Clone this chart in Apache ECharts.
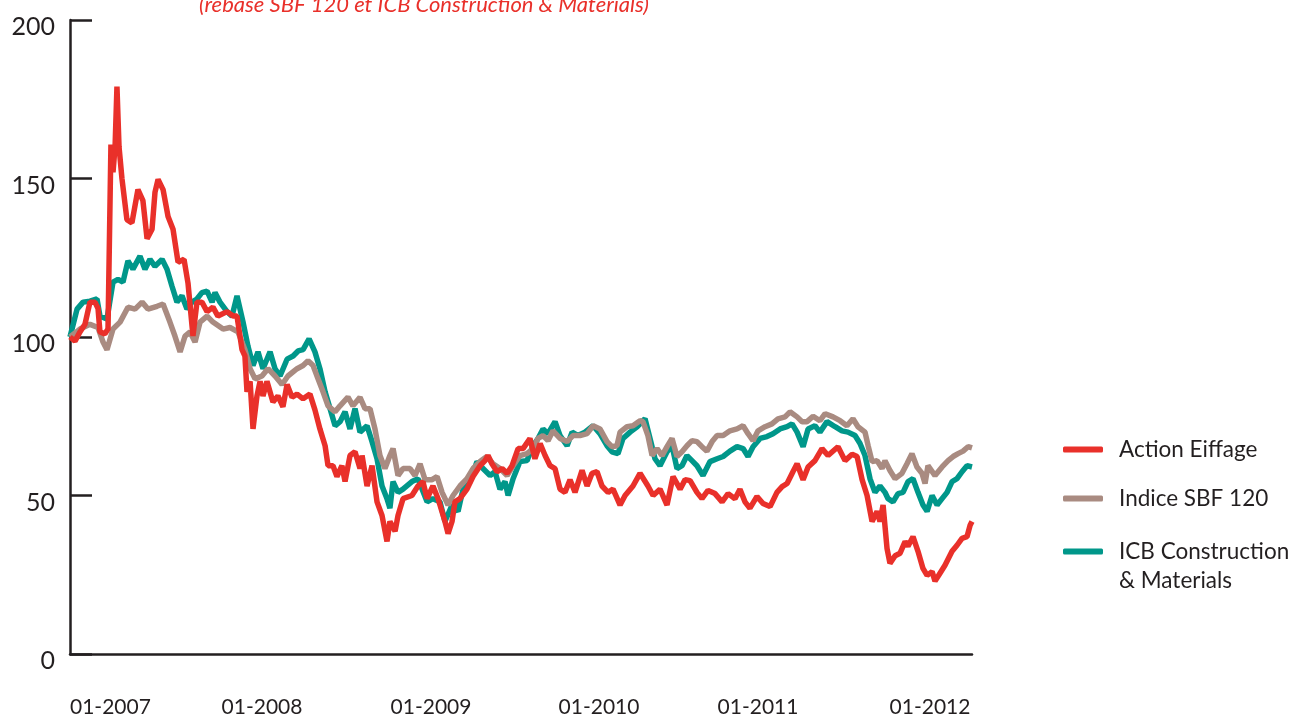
<!DOCTYPE html>
<html>
<head>
<meta charset="utf-8">
<script src="https://cdn.jsdelivr.net/npm/echarts@6/dist/echarts.min.js"></script>
<style>
  html, body { margin: 0; padding: 0; background: #fff; }
  #chart { width: 1290px; height: 718px; }
</style>
</head>
<body>
<div id="chart"></div>
<script>
// x = date as decimal year, y = value rebased to 100 on 01-2007
const seriesNames = ['Action Eiffage', 'Indice SBF 120', 'ICB Construction\n& Materials'];
const yearLabels = [2007, 2008, 2009, 2010, 2011, 2012];
const yTicks = [0, 50, 100, 150, 200];

const eiffageT = [0,0.029,0.058,0.087,0.116,0.145,0.163,0.174,0.203,0.221,0.238,0.250,0.262,0.273,0.285,0.302,0.331,0.360,0.395,0.424,0.448,0.477,0.494,0.512,0.541,0.570,0.599,0.628,0.663,0.686,0.715,0.738,0.767,0.797,0.831,0.860,0.913,0.948,0.971,1.000,1.017,1.029,1.047,1.064,1.087,1.105,1.122,1.145,1.180,1.209,1.238,1.262,1.291,1.320,1.355,1.395,1.424,1.453,1.483,1.500,1.529,1.552,1.581,1.599,1.628,1.657,1.686,1.698,1.727,1.756,1.785,1.814,1.843,1.860,1.890,1.907,1.936,1.988,2.023,2.052,2.076,2.110,2.140,2.180,2.198,2.221,2.238,2.267,2.308,2.343,2.384,2.413,2.430,2.453,2.483,2.512,2.541,2.570,2.605,2.634,2.674,2.703,2.733,2.762,2.791,2.820,2.849,2.878,2.907,2.936,2.977,3.006,3.035,3.064,3.093,3.128,3.157,3.198,3.227,3.273,3.314,3.360,3.390,3.430,3.471,3.506,3.547,3.576,3.605,3.645,3.674,3.709,3.750,3.791,3.826,3.866,3.895,3.924,3.953,3.994,4.029,4.070,4.110,4.140,4.169,4.203,4.227,4.262,4.291,4.331,4.372,4.407,4.465,4.506,4.547,4.576,4.605,4.634,4.663,4.692,4.709,4.727,4.750,4.767,4.797,4.826,4.855,4.872,4.901,4.930,4.959,4.983,5.012,5.029,5.058,5.087,5.128,5.157,5.186,5.215,5.233,5.244];
const eiffageV = [100,98.7,101.6,104,111,111,109,101.6,101,102.5,160.7,152,160,179,160,150,137,136,146.5,143,131,134,145.6,149.7,146.5,138,134,123.6,124.5,117,100.3,111,111,108,109.4,106.6,108,106.6,106.6,96,94,82.7,86,71,81.4,86,81.4,86,79.5,81.4,78,85,81,82,80.5,82,77,71,65.7,59.4,59.4,56,59.4,54.4,62.6,63.8,58.5,62.6,53,59.4,48,43.7,35.5,41.8,38.7,43.7,49,50,53,54.4,49,53,49,41.8,38,41.8,48,49,52,56,59.4,61,62.6,60,57.5,58.5,57,59.4,64.8,64.8,68,61.6,66.4,62.6,59.4,58.5,52,51,55,51,57.9,53,57,57.5,53,51,52,47,50,53,57,53,50,52,47,56,52,55,54.7,51,49,51.6,50.6,48,50.6,49,52,48,46,49.7,47.5,46.5,51,52.8,53.8,57.5,60,55,59,61,64.8,62.6,65.4,61,63,62.3,55,50,41.8,45,41.8,47,33.3,28.6,31,31.8,35.5,34,37,32.4,27,24.8,26,23,25.5,28,32.4,34.3,36.5,37,40.6,41.8];

const sbfT = [0,0.058,0.116,0.163,0.192,0.215,0.250,0.291,0.337,0.378,0.419,0.453,0.506,0.541,0.581,0.610,0.640,0.669,0.698,0.727,0.756,0.797,0.831,0.890,0.930,0.977,1.017,1.047,1.076,1.116,1.151,1.192,1.233,1.267,1.320,1.355,1.384,1.413,1.442,1.471,1.500,1.541,1.570,1.616,1.645,1.686,1.715,1.744,1.773,1.802,1.831,1.860,1.878,1.907,1.936,1.977,2.006,2.035,2.064,2.105,2.134,2.163,2.198,2.227,2.267,2.308,2.343,2.384,2.424,2.459,2.500,2.541,2.576,2.616,2.657,2.692,2.721,2.750,2.779,2.808,2.849,2.890,2.924,2.965,3.006,3.041,3.081,3.122,3.151,3.180,3.198,3.238,3.273,3.314,3.331,3.360,3.384,3.413,3.442,3.471,3.500,3.529,3.558,3.587,3.616,3.645,3.674,3.703,3.733,3.762,3.797,3.837,3.878,3.913,3.942,3.971,4.000,4.041,4.081,4.116,4.157,4.186,4.227,4.256,4.285,4.320,4.360,4.390,4.436,4.477,4.517,4.552,4.581,4.622,4.640,4.663,4.692,4.721,4.738,4.767,4.797,4.837,4.866,4.895,4.924,4.953,4.971,4.988,5.029,5.070,5.105,5.134,5.163,5.192,5.221,5.244];
const sbfV = [100,102.5,104,103,98.4,96,102.5,104.7,109.4,108.8,111,108.8,109.7,110.4,104.7,100.3,95.3,100.3,101.6,98.4,104.7,106.6,104.7,102.5,103,101.6,96,90,86.8,87.7,90,87.7,85,87.7,90,91,92.5,91,86.8,82.7,78.3,76.4,78.3,81,78.3,81,77.4,77.4,71,62.6,58.5,62.6,64.8,56.3,58.5,58.5,56.3,60,55,55,56,51,47,50,53,55.3,58.5,60.7,62.3,60,58.5,56.3,59.4,62.6,63.2,64.8,68,68.9,67.3,70.4,68,67,68.9,68.9,69.5,72,71,67,65.4,65.7,70,71.7,72,73.6,73.3,68.9,62.6,64.8,62.6,65.4,68,62.3,63.8,65.7,67.3,67,65.4,64,67,68.9,68.9,70.4,71,72,69.5,67.3,70.4,71.7,72.6,74.2,74.8,76.4,74.8,73.3,73.3,75,73.6,75.8,74.8,73.6,72,74.2,71.7,70,65.7,60.7,61,58.5,61,57.9,55.3,57,60,63.2,59,57,53.8,59.4,56.3,59,61,62.3,63.2,64,65.4,65];

const icbT = [0,0.041,0.076,0.116,0.157,0.174,0.215,0.250,0.279,0.308,0.337,0.366,0.407,0.436,0.465,0.494,0.535,0.564,0.593,0.622,0.651,0.680,0.709,0.738,0.767,0.797,0.826,0.843,0.872,0.913,0.942,0.971,1.006,1.035,1.064,1.093,1.122,1.163,1.192,1.221,1.262,1.297,1.326,1.355,1.390,1.424,1.453,1.483,1.512,1.541,1.570,1.599,1.628,1.657,1.686,1.727,1.756,1.785,1.814,1.843,1.860,1.878,1.907,1.936,1.988,2.023,2.076,2.110,2.151,2.180,2.221,2.256,2.285,2.326,2.366,2.401,2.442,2.471,2.500,2.529,2.547,2.576,2.616,2.657,2.692,2.721,2.750,2.779,2.820,2.849,2.890,2.919,2.953,2.994,3.041,3.081,3.122,3.151,3.186,3.215,3.256,3.297,3.343,3.372,3.401,3.430,3.471,3.500,3.529,3.558,3.587,3.616,3.645,3.680,3.721,3.762,3.797,3.837,3.878,3.913,3.942,3.971,4.012,4.052,4.087,4.128,4.169,4.198,4.227,4.262,4.291,4.331,4.360,4.401,4.448,4.488,4.523,4.564,4.593,4.622,4.651,4.680,4.709,4.738,4.756,4.785,4.814,4.843,4.872,4.901,4.930,4.959,4.983,5.012,5.041,5.070,5.099,5.128,5.157,5.186,5.215,5.244];
const icbV = [100,108.8,111,111.3,112,106.6,105.7,117.3,118.2,117.3,124,121.4,125.5,121.4,124.5,122.3,124.5,121.4,116,111,113,108.8,111,112,114,114.5,111,114,111,108,106.6,113,104.7,97,91,95.3,90,95.3,90,87.7,93,94,95.6,96,99.4,95.3,90,82.7,77.4,72,73.3,76.4,71,77.4,70,72,67,61.6,53,49,46,54.4,51,52,54.4,55.3,48,49,48,41.8,47,45,52,54.4,60.7,58.5,56.3,57.5,52,54.4,50,55.3,60.7,61,65.7,68,71,69.5,73.3,68.9,65.7,70,68.9,70,72,69.5,65.7,63.8,63.2,68,70,71.7,74.2,68,61.6,59.4,63.8,65.7,58.5,59.4,62.6,61,59.4,56.3,60.7,61.6,62.3,64,65.4,64.8,62.3,65.4,68,68.6,69.5,71,71.7,72.6,70,65.4,71,72,70,73.3,71.7,70.4,70,68.9,66.4,62.6,55.3,51,53,51,49,48,50.6,51,54.4,55.3,51,47,45,50,47,49,51,54.4,55.3,57.5,59.4,59];

const colors = ['#e9302a', '#a98b81', '#00978a'];
const fontName = 'Lato';
const ink = '#231f20';

function pairs(t, v) {
  return t.map((d, i) => [2007 + d, v[i]]);
}

// legend text: gap after the line icon, one rich token per line
function legendText(name, blankFirst) {
  const lines = name.split('\n').map(s => '{t|' + s + '}');
  return (blankFirst ? '{t| }\n' : '') + lines.join('\n');
}

// the year labels of the original sit a bit right of the year start for the first years
function yearLabel(v) {
  if (yearLabels.indexOf(v) < 0) return '';
  const style = { 2008: 'a', 2009: 'b', 2010: 'c' }[v] || 'n';
  return '{' + style + '|01-' + v + '}';
}

const labelFont = { fontSize: 21, color: ink, fontFamily: fontName };

const legendBase = {
  orient: 'vertical',
  left: 1063,
  padding: 0,
  itemWidth: 40,
  itemHeight: 6,
  itemGap: 26,
  icon: 'roundRect',
  textStyle: {
    color: ink,
    fontFamily: fontName,
    rich: { t: { fontSize: 22.5, lineHeight: 29, color: ink, fontFamily: fontName, padding: [0, 0, 0, 11] } }
  }
};

const chart = echarts.init(document.getElementById('chart'));

const option = {
  animation: false,
  backgroundColor: '#fff',
  textStyle: { fontFamily: fontName },
  graphic: [{
    type: 'text',
    x: 424,
    y: -6,
    style: {
      text: '(rebasé SBF 120 et ICB Construction & Materials)',
      fill: '#e9302a',
      font: 'italic 22px ' + fontName,
      textAlign: 'center',
      textVerticalAlign: 'top'
    }
  }],
  grid: { left: 70, right: 318, top: 20, bottom: 62 },
  legend: [
    Object.assign({}, legendBase, {
      top: 438,
      data: [seriesNames[0], seriesNames[1]],
      formatter: name => legendText(name, false)
    }),
    Object.assign({}, legendBase, {
      top: 511,
      data: [seriesNames[2]],
      formatter: name => legendText(name, true)
    })
  ],
  xAxis: {
    type: 'value',
    min: 2007,
    max: 2007 + 5.244,
    interval: 1,
    splitLine: { show: false },
    axisTick: { show: false },
    axisLine: { lineStyle: { color: ink, width: 2.5 } },
    axisLabel: {
      margin: 43,
      color: ink,
      alignMinLabel: 'left',
      formatter: yearLabel,
      rich: {
        n: labelFont,
        a: Object.assign({ padding: [0, 0, 0, 40] }, labelFont),
        b: Object.assign({ padding: [0, 0, 0, 34] }, labelFont),
        c: Object.assign({ padding: [0, 0, 0, 26] }, labelFont)
      }
    }
  },
  yAxis: {
    type: 'value',
    min: yTicks[0],
    max: yTicks[yTicks.length - 1],
    interval: 50,
    splitLine: { show: false },
    axisLine: { show: true, lineStyle: { color: ink, width: 2.5 } },
    axisTick: { show: true, inside: true, length: 22, lineStyle: { color: ink, width: 2.5 } },
    axisLabel: {
      margin: 15,
      color: ink,
      formatter: v => '{v|' + v + '}',
      rich: { v: { fontSize: 25, color: ink, fontFamily: fontName, padding: [14, 0, 0, 0] } }
    }
  },
  series: [
    {
      name: seriesNames[2], type: 'line', z: 2, showSymbol: false,
      data: pairs(icbT, icbV),
      lineStyle: { color: colors[2], width: 5.5 }, itemStyle: { color: colors[2] }
    },
    {
      name: seriesNames[1], type: 'line', z: 3, showSymbol: false,
      data: pairs(sbfT, sbfV),
      lineStyle: { color: colors[1], width: 5.5 }, itemStyle: { color: colors[1] }
    },
    {
      name: seriesNames[0], type: 'line', z: 4, showSymbol: false,
      data: pairs(eiffageT, eiffageV),
      lineStyle: { color: colors[0], width: 5.5 }, itemStyle: { color: colors[0] }
    }
  ]
};

chart.setOption(option);
</script>
</body>
</html>
